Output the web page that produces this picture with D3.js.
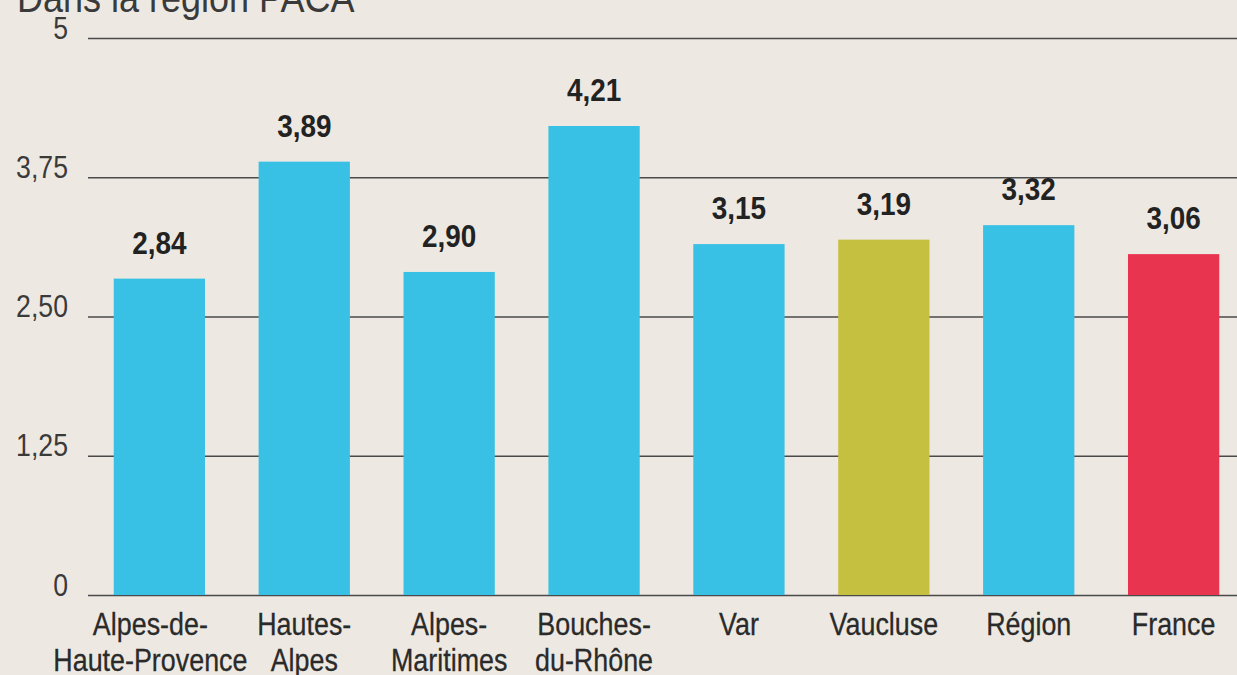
<!DOCTYPE html>
<html><head><meta charset="utf-8">
<script src="https://cdn.jsdelivr.net/npm/d3@7"></script>
<style>
html,body{margin:0;padding:0;background:#ede9e2;}
svg{display:block;}
</style></head>
<body>
<svg id="chart" width="1237" height="675"></svg>
<script>
const categories = [["Alpes-de-","Haute-Provence"],["Hautes-","Alpes"],["Alpes-","Maritimes"],["Bouches-","du-Rhône"],["Var"],["Vaucluse"],["Région"],["France"]];
const values = [2.84, 3.89, 2.90, 4.21, 3.15, 3.19, 3.32, 3.06];
const colors = ["#38c1e4","#38c1e4","#38c1e4","#38c1e4","#38c1e4","#c5c03f","#38c1e4","#e8344e"];
const tickValues = [0, 1.25, 2.5, 3.75, 5];
const tickLabels = ["0", "1,25", "2,50", "3,75", "5"];
const title = "Dans la région PACA";

const FONT = "'Liberation Sans','Arial',sans-serif";
const svg = d3.select("#chart");
const W = 1237, H = 675;
svg.append("rect").attr("width",W).attr("height",H).attr("fill","#ede9e2");

const x = d3.scaleBand().domain(d3.range(values.length)).range([92, 1241]).paddingInner(0.37).paddingOuter(0.15);
const y = d3.scaleLinear().domain([0,5]).range([595, 38]);

// title (cut off at the top in the reference)
svg.append("g").attr("transform","translate(17,12) scale(0.9,1)")
  .append("text").attr("font-family",FONT).attr("font-size",40).attr("fill","#3a3a3a").text(title);

// grid + tick labels via axis
const TS = 0.86;
const axis = d3.axisLeft(y).tickValues(tickValues).tickSize(-(W-88))
  .tickFormat(d => tickLabels[tickValues.indexOf(d)]);
const g = svg.append("g").attr("transform","translate(88,0)").call(axis);
g.select(".domain").remove();
g.selectAll(".tick line").attr("stroke","#4a4a4a").attr("stroke-width",1.6);
g.selectAll(".tick text").attr("x",-20/TS).attr("dy","0").attr("y",0)
  .attr("transform",`scale(${TS},1)`)
  .attr("font-family",FONT).attr("font-size",31)
  .attr("fill","#3a3a3a").attr("text-anchor","end");

// bars
svg.append("g").selectAll("rect").data(values).join("rect")
  .attr("x",(d,i)=>x(i)).attr("width",x.bandwidth())
  .attr("y",d=>y(d)).attr("height",d=>y(0)-y(d))
  .attr("fill",(d,i)=>colors[i]);

// value labels
svg.append("g").selectAll("g").data(values).join("g")
  .attr("transform",(d,i)=>`translate(${x(i)+x.bandwidth()/2},${y(d)-25}) scale(0.9,1)`)
  .append("text").attr("text-anchor","middle").attr("font-family",FONT).attr("font-weight","bold")
  .attr("font-size",31).attr("fill","#222").text(d=>d.toFixed(2).replace(".", ","));

// category labels (first one nudged left as in the reference)
const cg = svg.append("g").selectAll("g").data(categories).join("g")
  .attr("transform",(d,i)=>`translate(${x(i)+x.bandwidth()/2 - (i===0?9:0)},635) scale(0.84,1)`)
  .append("text").attr("text-anchor","middle").attr("font-family",FONT).attr("font-size",32)
  .attr("fill","#2a2a2a").attr("stroke","#2a2a2a").attr("stroke-width",0.3);
cg.selectAll("tspan").data(d=>d).join("tspan").attr("x",0).attr("y",(d,j)=>j*36).text(d=>d);
</script>
</body></html>
